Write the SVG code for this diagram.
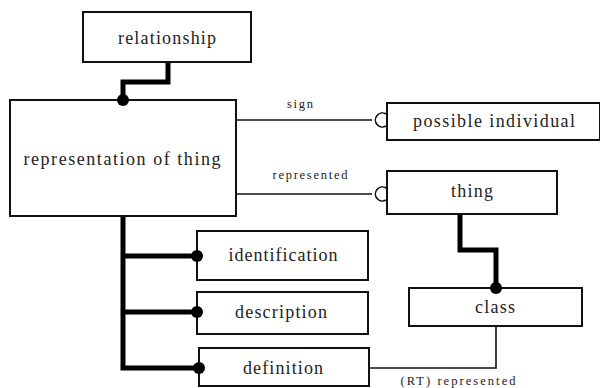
<svg xmlns="http://www.w3.org/2000/svg" width="600" height="388" viewBox="0 0 600 388">
<style>
.box{fill:#fff;stroke:#111;stroke-width:2}
text{fill:#222;text-anchor:middle}
.t{font-size:18px}
.lbl{font-size:12.5px}
.thin{fill:none;stroke:#111;stroke-width:1.6}
.thick{fill:none;stroke:#000;stroke-width:5}
.dot{fill:#000}
.ring{fill:#fff;stroke:#111;stroke-width:1.6}
</style>
<rect width="600" height="388" fill="#fff"/>
<g font-family="Liberation Serif, DejaVu Serif, serif">
<g id="relationship"><rect class="box" x="83" y="12" width="168" height="50"/><text class="t" x="167" y="44" textLength="98" lengthAdjust="spacing">relationship</text></g>
<g id="representation_of_thing"><rect class="box" x="10" y="100" width="226" height="116"/><text class="t" x="122" y="165" textLength="197" lengthAdjust="spacing">representation of thing</text></g>
<g id="possible_individual"><rect class="box" x="387" y="103" width="213" height="37"/><text class="t" x="494" y="127" textLength="162" lengthAdjust="spacing">possible individual</text></g>
<g id="thing"><rect class="box" x="387" y="171" width="170" height="43"/><text class="t" x="472" y="197" textLength="42" lengthAdjust="spacing">thing</text></g>
<g id="identification"><rect class="box" x="197" y="231" width="171" height="49"/><text class="t" x="283" y="261" textLength="109" lengthAdjust="spacing">identification</text></g>
<g id="description"><rect class="box" x="197" y="292" width="171" height="42"/><text class="t" x="281" y="318" textLength="92" lengthAdjust="spacing">description</text></g>
<g id="definition"><rect class="box" x="199" y="348" width="170" height="38"/><text class="t" x="283" y="374" textLength="80" lengthAdjust="spacing">definition</text></g>
<g id="class"><rect class="box" x="409" y="288" width="173" height="38"/><text class="t" x="495" y="313" textLength="40" lengthAdjust="spacing">class</text></g>
<g id="connectors">
<path class="thick" d="M168,63 V82 H123 V100"/>
<circle class="dot" cx="123" cy="100" r="6"/>
<path class="thick" d="M123,217 V368 H199 M123,256 H197 M123,312 H197"/>
<circle class="dot" cx="197" cy="256" r="6"/>
<circle class="dot" cx="197" cy="312" r="6"/>
<circle class="dot" cx="199" cy="368" r="6"/>
<path class="thick" d="M460,215 V250 H496 V288"/>
<circle class="dot" cx="496" cy="288" r="6"/>
<path class="thin" d="M237,120 H372"/>
<path class="thin" d="M237,194 H372"/>
<path class="ring" d="M386,114 A7,7 0 1 0 386,126"/>
<path class="ring" d="M386,188 A7,7 0 1 0 386,200"/>
<path class="thin" d="M370,368 H496 V327"/>
<text class="lbl" x="300" y="108" textLength="26" lengthAdjust="spacing">sign</text>
<text class="lbl" x="310" y="179" textLength="75" lengthAdjust="spacing">represented</text>
<text class="lbl" x="458" y="385" textLength="115" lengthAdjust="spacing">(RT) represented</text>
</g>
</g>
</svg>
